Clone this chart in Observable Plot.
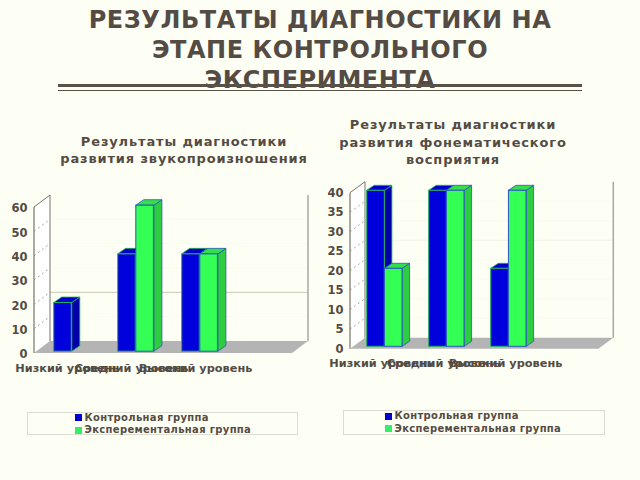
<!DOCTYPE html>
<html><head><meta charset="utf-8">
<script src="https://cdn.jsdelivr.net/npm/d3@7"></script>
<script src="https://cdn.jsdelivr.net/npm/@observablehq/plot@0.6"></script>
<style>
html,body{margin:0;padding:0;background:#FEFFF4;}
#root{position:relative;width:640px;height:480px;overflow:hidden;font-family:"DejaVu Sans",sans-serif;font-weight:bold;color:#544c44;}
.t{position:absolute;text-align:center;white-space:nowrap;}
#root svg{position:absolute;background:transparent;overflow:visible;}
.rule{position:absolute;background:#5a5248;}
.legend{position:absolute;border:1px solid #dcdcd0;box-sizing:border-box;background:#FEFFF4;}
.row{position:absolute;font-size:10px;line-height:12px;letter-spacing:.33px;white-space:nowrap;}
.sw{position:absolute;width:7px;height:7px;}
</style></head><body><div id="root"></div>
<script>
const mainTitle = ["РЕЗУЛЬТАТЫ ДИАГНОСТИКИ НА","ЭТАПЕ КОНТРОЛЬНОГО","ЭКСПЕРИМЕНТА"];
const categories = ["Низкий уровень","Средний уровень","Высокий уровень"];
const seriesNames = ["Контрольная группа","Эксперементальная группа"];
const leftTitle = ["Результаты диагностики","развития звукопроизношения"];
const rightTitle = ["Результаты диагностики","развития фонематического","восприятия"];
const leftControl = [20,40,40];
const leftExperiment = [0,60,40];
const leftTicks = [0,10,20,30,40,50,60];
const rightControl = [40,40,20];
const rightExperiment = [20,40,40];
const rightTicks = [0,5,10,15,20,25,30,35,40];
const colors = {front:["#0000DD","#33FF55"],side:["#0000A8","#2ECC40"],top:["#0000C8","#33E04A"]};

const root = document.getElementById("root");
function addText(lines, cx, tops, size, ls){
  lines.forEach((s,i)=>{
    const d=document.createElement("div");d.className="t";d.textContent=s;
    d.style.cssText=`left:${cx-300}px;width:600px;top:${tops[i]}px;font-size:${size}px;line-height:${size+4}px;letter-spacing:${ls}px;`;
    root.appendChild(d);
  });
}
addText(mainTitle,320,[6,36,66],24,0.55);
addText(leftTitle,184,[133,150],13,0.85);
addText(rightTitle,453,[116,134,151],13,0.85);
[[85,3],[91,1]].forEach(([t,h])=>{
  const r=document.createElement("div");r.className="rule";
  r.style.cssText=`left:58px;width:524px;top:${t-1}px;height:${h}px;`;root.appendChild(r);
});

function chart(cfg){
  const {left,top,xr,yr,ymax,ticks,ctl,exp,dark,gridStrong,depthWall,depthBar,inset,barW,barDy,labelY,tickDy} = cfg;
  const ns="http://www.w3.org/2000/svg";
  const poly=(g,pts,attrs)=>{const p=document.createElementNS(ns,"polygon");p.setAttribute("points",pts.map(a=>a.join(",")).join(" "));for(const k in attrs)p.setAttribute(k,attrs[k]);g.appendChild(p);};
  const line=(g,a,b,attrs)=>{const p=document.createElementNS(ns,"line");p.setAttribute("x1",a[0]);p.setAttribute("y1",a[1]);p.setAttribute("x2",b[0]);p.setAttribute("y2",b[1]);for(const k in attrs)p.setAttribute(k,attrs[k]);g.appendChild(p);};
  const frame=(index,{y})=>{
    const g=document.createElementNS(ns,"g");
    const [x0,x1]=xr, y0=y(0), yT=y(ymax), [dx,dy]=depthWall;
    poly(g,[[x0,y0],[x0+dx,y0-dy],[x0+dx,yT-dy],[x0,yT]],{fill:"#fff",stroke:"none"});
    poly(g,[[x0,y0],[x1,y0],[x1+dx,y0-dy],[x0+dx,y0-dy]],{fill:"#b4b4b4",stroke:"none"});
    ticks.forEach(t=>{
      if(t===0||t===ymax) return;
      line(g,[x0,y(t)],[x0+dx,y(t)-dy],{stroke:"#a8a89c","stroke-dasharray":"2,3"});
      line(g,[x0+dx,y(t)-dy],[x1+dx,y(t)-dy],{stroke:t===gridStrong?dark:"#fafaee"});
    });
    line(g,[x0,y0],[x0,yT],{stroke:"#7a7268","stroke-width":1.2});
    line(g,[x0,yT],[x0+dx,yT-dy],{stroke:"#7a7268"});
    line(g,[x0+dx,yT-dy],[x0+dx,y0-dy],{stroke:"#7a7268"});
    line(g,[x1+dx,yT-dy],[x1+dx,y0-dy],{stroke:"#a8a89c","stroke-width":1.5});
    return g;
  };
  const barsFor=(vals,s)=>{
    const rows=categories.map((c,i)=>({c,v:vals[i]})).filter(d=>d.v>0);
    const [ddx,ddy]=depthBar;
    return Plot.barY(rows,{x:"c",y:"v",fill:colors.front[s],stroke:s?"#2a55c0":"#22b060",strokeWidth:1,
      insetLeft:inset+s*barW,insetRight:(xr[1]-xr[0])/4-inset-(s+1)*barW,dy:barDy,
      render(index,scales,values,dims,ctx,next){
        const g=document.createElementNS(ns,"g");
        const node=next(index,scales,values,dims,ctx);
        index.forEach(i=>{
          const l=values.x[i]+inset+s*barW, r=l+barW;
          const top=Math.min(values.y1[i],values.y2[i])+barDy, bot=Math.max(values.y1[i],values.y2[i])+barDy;
          const st={stroke:s?"#2a55c0":"#22b060","stroke-width":.8};
          poly(g,[[r,top],[r+ddx,top-ddy],[r+ddx,bot-ddy],[r,bot]],{fill:colors.side[s],...st});
          poly(g,[[l,top],[l+ddx,top-ddy],[r+ddx,top-ddy],[r,top]],{fill:colors.top[s],...st});
        });
        g.appendChild(node);
        return g;
      }});
  };
  const p=Plot.plot({
    width:320,height:210,marginLeft:0,marginRight:0,marginTop:0,marginBottom:0,
    style:{background:"transparent",fontFamily:"DejaVu Sans",fontWeight:"bold",fontSize:"11px",color:"#544c44"},
    x:{type:"band",domain:[...categories," "],range:xr,padding:0,axis:null},
    y:{domain:[0,ymax],range:yr,axis:null},
    marks:[
      frame,
      barsFor(ctl,0),barsFor(exp,1),
      Plot.text(ticks,{y:d=>d,frameAnchor:"left",dx:xr[0]-7,dy:tickDy,textAnchor:"end",fontWeight:"bold",fontSize:11.5,fill:"#544c44"}),
      Plot.text(categories,{x:d=>d,frameAnchor:"top",dy:labelY,fontWeight:"bold",fontSize:11.3,fill:"#544c44",textAnchor:"middle",style:"letter-spacing:.8px"})
    ]
  });
  p.style.left=left+"px";p.style.top=top+"px";
  root.appendChild(p);
}
chart({left:0,top:180,xr:[34,292],yr:[173,27],ymax:60,ticks:leftTicks,ctl:leftControl,exp:leftExperiment,dark:"#c8c8b4",gridStrong:20,depthWall:[16,12],depthBar:[8,5.5],inset:18.7,barW:18.1,barDy:-1.8,labelY:183,tickDy:1});
chart({left:320,top:170,xr:[30,278.3],yr:[178.7,22.7],ymax:40,ticks:rightTicks,ctl:rightControl,exp:rightExperiment,dark:"#f0f0e2",gridStrong:25,depthWall:[15,11],depthBar:[7.5,5],inset:16.7,barW:17.7,barDy:-2.4,labelY:188,tickDy:0});

function legend(l,t,w,h,swX,rows){
  const b=document.createElement("div");b.className="legend";b.style.cssText=`left:${l}px;top:${t}px;width:${w}px;height:${h}px;`;root.appendChild(b);
  seriesNames.forEach((n,i)=>{
    const s=document.createElement("div");s.className="sw";s.style.cssText=`left:${swX}px;top:${rows[i]-3.5}px;background:${i?"#33EE66":"#0000CC"};`;root.appendChild(s);
    const d=document.createElement("div");d.className="row";d.textContent=n;d.style.cssText=`left:${swX+9.5}px;top:${rows[i]-6}px;`;root.appendChild(d);
  });
}
legend(27,412,271,23,75,[417.5,430]);
legend(343,410,262,25,385,[416,428.7]);
</script></body></html>
